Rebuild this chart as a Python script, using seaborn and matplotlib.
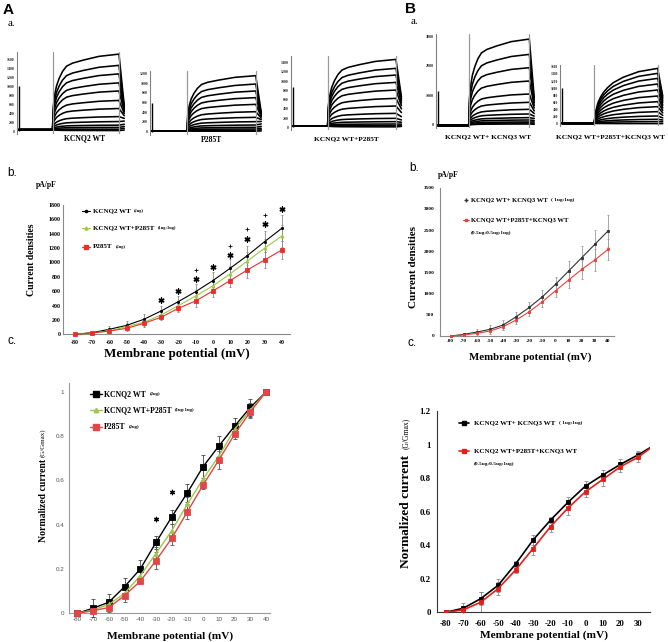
import numpy as np
import pandas as pd
import matplotlib
matplotlib.use("Agg")
import matplotlib.pyplot as plt
import seaborn as sns
from matplotlib.lines import Line2D

sns.set_theme(style="white")
SERIF = "Liberation Serif"
SANS = "Liberation Sans"
plt.rcParams['font.family'] = [SERIF, 'DejaVu Sans']
plt.rcParams['axes.unicode_minus'] = False

# ---------------- data ----------------
voltage = [-80, -70, -60, -50, -40, -30, -20, -10, 0, 10, 20, 30, 40]

# b (A): current densities pA/pF
b_wt = [0, 23, 70, 125, 209, 325, 455, 594, 747, 918, 1095, 1289, 1475]
b_wt_err = [0, 12, 40, 55, 70, 65, 85, 110, 120, 130, 135, 150, 180]
b_mix = [0, 19, 46, 107, 167, 269, 399, 533, 673, 840, 1020, 1197, 1368]
b_mix_err = [0, 10, 30, 45, 50, 55, 70, 90, 100, 110, 120, 130, 150]
b_mut = [0, 19, 46, 83, 153, 237, 362, 464, 603, 747, 895, 1034, 1173]
b_mut_err = [0, 10, 25, 35, 45, 40, 55, 80, 90, 95, 110, 115, 130]
b_star_x = [-30, -20, -10, 0, 10, 20, 30, 40]
b_star_y = [478, 603, 770, 932, 1104, 1327, 1531, 1739]
b_plus_x = [-10, 10, 20, 30]
b_plus_y = [895, 1229, 1461, 1660]

# b (B): current densities with KCNQ3
bb_wt = [0, 39, 94, 157, 260, 456, 677, 928, 1220, 1534, 1849, 2164, 2478]
bb_wt_err = [0, 25, 80, 100, 120, 120, 130, 160, 180, 240, 280, 330, 380]
bb_mut = [0, 24, 63, 118, 220, 378, 574, 810, 1070, 1322, 1574, 1794, 2046]
bb_mut_err = [0, 20, 60, 80, 90, 90, 100, 130, 150, 180, 220, 260, 250]

# c (A): normalized conductance
c_wt = [0, 0.023, 0.05, 0.12, 0.20, 0.32, 0.435, 0.545, 0.663, 0.756, 0.846, 0.93, 1.0]
c_wt_err = [0, 0.04, 0.035, 0.04, 0.04, 0.03, 0.03, 0.04, 0.05, 0.045, 0.035, 0.04, 0]
c_mix = [0, 0.015, 0.04, 0.09, 0.17, 0.27, 0.373, 0.494, 0.607, 0.711, 0.831, 0.919, 1.0]
c_mix_err = [0, 0.01, 0.02, 0.02, 0.02, 0.03, 0.03, 0.03, 0.04, 0.03, 0.03, 0.03, 0]
c_mut = [0, 0.012, 0.026, 0.08, 0.145, 0.238, 0.339, 0.459, 0.58, 0.693, 0.809, 0.91, 1.0]
c_mut_err = [0, 0.01, 0.02, 0.03, 0.01, 0.04, 0.03, 0.035, 0.02, 0.04, 0.02, 0.03, 0]
c_star_x = [-30, -20]
c_star_y = [0.426, 0.547]

# c (B): normalized conductance with KCNQ3
cb_wt = [0, 0.024, 0.081, 0.161, 0.288, 0.431, 0.55, 0.656, 0.753, 0.819, 0.882, 0.938, 1.0]
cb_wt_err = [0, 0.03, 0.04, 0.04, 0.015, 0.03, 0.02, 0.03, 0.03, 0.03, 0.03, 0.025, 0]
cb_mut = [0, 0.014, 0.06, 0.141, 0.252, 0.38, 0.511, 0.622, 0.719, 0.793, 0.868, 0.924, 1.0]
cb_mut_err = [0, 0.02, 0.06, 0.04, 0.02, 0.04, 0.03, 0.04, 0.03, 0.04, 0.03, 0.03, 0]

# current traces (a): steady-state level, tail level per sweep
protocol_t = [0.03, 0.54, 1.54, 1.62]          # start, step on, step off, tail end
shape_t = [0, 0.01, 0.03, 0.06, 0.10, 0.15, 0.21, 0.30, 0.46, 0.70, 1.0]
shape_fast = [0, 0.30, 0.45, 0.58, 0.68, 0.77, 0.84, 0.88, 0.92, 0.97, 1.0]
shape_slow = [0, 0.12, 0.25, 0.38, 0.48, 0.57, 0.65, 0.74, 0.84, 0.94, 1.0]

tr_wt = [10, 40, 80, 130, 210, 320, 500, 680, 890, 1070, 1270, 1460, 1710]
tr_wt_tail = [20, 60, 100, 150, 220, 280, 340, 390, 430, 460, 490, 520, 560]
tr_mut = [10, 27, 55, 89, 137, 206, 295, 411, 562, 700, 837, 980, 1152]
tr_mut_tail = [15, 40, 70, 110, 160, 210, 250, 280, 310, 330, 350, 370, 400]
tr_mix = [10, 36, 72, 123, 195, 303, 462, 628, 808, 974, 1133, 1278, 1472]
tr_mix_tail = [20, 40, 70, 110, 160, 230, 320, 400, 470, 530, 580, 620, 660]
tr_q3 = [10, 46, 80, 148, 228, 354, 513, 753, 1038, 1483, 1939, 2395, 2920]
tr_q3_tail = [0, 40, 80, 130, 200, 280, 370, 460, 560, 650, 740, 830, 920]
tr_q3m = [10, 65, 130, 223, 344, 484, 623, 781, 949, 1116, 1274, 1414, 1553]
tr_q3m_tail = [10, 60, 110, 170, 240, 310, 380, 450, 520, 590, 650, 720, 780]

# ---------------- figure ----------------
W, H = 668, 642
fig = plt.figure(figsize=(W / 100, H / 100), dpi=100)
renderer = fig.canvas.get_renderer()


def add_ax(l, t, r, b):
    return fig.add_axes([l / W, 1 - b / H, (r - l) / W, (b - t) / H])


def ftext(x, y, s, size, family=SERIF, weight='bold', ha='left', va='center',
          rot=0, color='black'):
    return fig.text(x / W, 1 - y / H, s, fontsize=size, family=family, fontweight=weight,
                    ha=ha, va=va, rotation=rot, color=color)


def ftext_pair(x, y, main, size, suffix, ssize, gap=3.5):
    t = ftext(x, y, main, size)
    bb = t.get_window_extent(renderer)
    ftext(bb.x1 + gap, y, suffix, ssize)


def fkey(x0, x1, y, color, marker, ms, lw=0.8):
    if x1 > x0:
        fig.add_artist(Line2D([x0 / W, x1 / W], [1 - y / H, 1 - y / H], color=color, lw=lw))
    fig.add_artist(Line2D([(x0 + x1) / 2 / W], [1 - y / H], marker=marker, ms=ms,
                          color=color, mec=color, lw=0))


def trace_panel(box, levels, tails, baseline, shape_f, trans_peak, ylim, yticks, tsize):
    ax = add_ax(*box)
    t0, ton, toff, tend = protocol_t
    for lev, tail in zip(levels, tails):
        t = [t0, ton] + [ton + s * (toff - ton) for s in shape_t] + [tend]
        y = [baseline, baseline] + [baseline + f * (lev - baseline) for f in shape_f] + [tail]
        sns.lineplot(x=t, y=y, ax=ax, color='black', lw=1.15, estimator=None, sort=False)
    ax.axvline(ton, color='#9a9a9a', lw=0.9)
    ax.axvline(toff, color='#9a9a9a', lw=0.9)
    ax.vlines(0.035, 0, trans_peak, color='black', lw=1.0)
    ax.set_xlim(0, 1.64)
    ax.set_ylim(*ylim)
    ax.set_yticks(yticks)
    ax.set_yticklabels([str(v) for v in yticks], fontsize=tsize, family=SERIF, fontweight='bold')
    ax.set_xticks([])
    ax.tick_params(axis='y', length=0, pad=1.5)
    for s in ['top', 'right', 'bottom']:
        ax.spines[s].set_visible(False)
    ax.spines['left'].set_color('#808080')
    ax.spines['left'].set_linewidth(0.8)
    ax.set_xlabel('')
    ax.set_ylabel('')
    ax.patch.set_alpha(0)
    return ax


trace_panel((16.7, 52.3, 125.6, 133.7), tr_wt, tr_wt_tail, 30, shape_fast, 1000,
            (-60, 1750), list(range(0, 1601, 200)), 2.8)
trace_panel((150, 70.9, 262.6, 134.6), tr_mut, tr_mut_tail, 15, shape_fast, 600,
            (-60, 1250), list(range(0, 1201, 200)), 2.8)
trace_panel((290.7, 55.8, 402.8, 130.1), tr_mix, tr_mix_tail, 30, shape_fast, 880,
            (-60, 1550), list(range(0, 1401, 200)), 2.8)
trace_panel((436, 33.8, 535.4, 127.8), tr_q3, tr_q3_tail, -40, shape_fast, 1150,
            (-120, 3100), [0, 1000, 2000, 3000], 3.0)
trace_panel((560, 64.9, 664, 126.1), tr_q3m, tr_q3m_tail, 15, shape_slow, 1000,
            (-60, 1650), list(range(0, 1601, 200)), 2.6)

ftext(85, 138.3, "KCNQ2 WT", 5.5, ha='center')
ftext(211.7, 140, "P285T", 5.5, ha='center')
ftext(346.7, 139, "KCNQ2 WT+P285T", 5.3, ha='center')
ftext(488, 137, "KCNQ2 WT+ KCNQ3 WT", 5.3, ha='center')
ftext(610, 136.7, "KCNQ2 WT+P285T+KCNQ3 WT", 5.3, ha='center')

GREEN = '#9cc84b'
RED = '#e8302a'


def style_axes(ax, spine_color, tsize, tfamily, tweight, tcolor, ypad, xpad):
    for s in ['top', 'right']:
        ax.spines[s].set_visible(False)
    for s in ['left', 'bottom']:
        ax.spines[s].set_color(spine_color)
        ax.spines[s].set_linewidth(0.8)
    ax.tick_params(axis='both', length=0, labelsize=tsize, colors=tcolor)
    ax.tick_params(axis='y', pad=ypad)
    ax.tick_params(axis='x', pad=xpad)
    for lab in ax.get_xticklabels() + ax.get_yticklabels():
        lab.set_family(tfamily)
        lab.set_fontweight(tweight)
    ax.set_xlabel('')
    ax.set_ylabel('')
    ax.patch.set_alpha(0)


def series(ax, y, err, color, marker, ms, lw, ecolor, cap):
    ax.errorbar(voltage, y, yerr=err, fmt='none', ecolor=ecolor, elinewidth=0.6,
                capsize=cap, capthick=0.6, clip_on=False, zorder=2)
    sns.lineplot(x=voltage, y=y, ax=ax, color=color, marker=marker, markersize=ms,
                 markeredgecolor=color, markeredgewidth=0.6, lw=lw, clip_on=False, zorder=3)


# ---- b (A) ----
ax = add_ax(63, 205, 290, 334.3)
series(ax, b_wt, b_wt_err, 'black', 'o', 1.6, 0.8, '#8a8a8a', 1.0)
series(ax, b_mix, b_mix_err, GREEN, '^', 2.2, 0.8, '#8a8a8a', 1.0)
series(ax, b_mut, b_mut_err, RED, 's', 2.2, 0.8, '#8a8a8a', 1.0)
sns.scatterplot(x=b_star_x, y=b_star_y, ax=ax, marker=(6, 2, 0), s=13, color='black',
                linewidth=1.0, edgecolor='black', clip_on=False, zorder=4)
sns.scatterplot(x=b_plus_x, y=b_plus_y, ax=ax, marker='+', s=12, color='black',
                linewidth=0.6, clip_on=False, zorder=4)
ax.set_xlim(-86.97, 44.8)
ax.set_ylim(0, 1800)
ax.set_xticks(voltage)
ax.set_yticks(list(range(0, 1801, 200)))
style_axes(ax, '#8a8a8a', 4.2, SERIF, 'bold', 'black', 1.5, 4)

ftext(46.7, 185, "pA/pF", 5.5, ha='center')
ftext(32, 260, "Current densities", 7.0, ha='center', rot=90)
ftext(176.7, 353.5, "Membrane potential (mV)", 9.4, ha='center')
fkey(82, 90, 211, 'black', 'o', 1.6)
ftext_pair(93, 211, "KCNQ2 WT", 5.0, "(2ug)", 3.2)
fkey(82, 90, 228, GREEN, '^', 2.2)
ftext_pair(93, 228, "KCNQ2 WT+P285T", 5.0, "(1ug:1ug)", 3.2)
fkey(82, 90, 247, RED, 's', 2.2)
ftext_pair(93, 247, "P285T", 5.0, "(2ug)", 3.2)

# ---- b (B) ----
ax = add_ax(440, 187.7, 614, 336)
series(ax, bb_wt, bb_wt_err, '#333333', 's', 1.6, 0.8, '#999999', 1.0)
series(ax, bb_mut, bb_mut_err, '#e8403a', 's', 1.8, 0.8, '#999999', 1.0)
ax.set_xlim(-88.2, 44.6)
ax.set_ylim(0, 3500)
ax.set_xticks(voltage)
ax.set_yticks(list(range(0, 3501, 500)))
style_axes(ax, '#8a8a8a', 3.8, SERIF, 'bold', 'black', 4, 2.5)

ftext(448, 175, "pA/pF", 5.5, ha='center')
ftext(414, 266.7, "Current densities", 8, ha='center', rot=90)
ftext(530.7, 357.5, "Membrane potential (mV)", 7.8, ha='center')
fkey(465.7, 465.7, 200, '#333333', '+', 2.5)
ftext_pair(470.7, 200, "KCNQ2 WT+ KCNQ3 WT", 4.8, "( 1ug:1ug)", 3.8, gap=4)
fkey(463, 468.5, 220, '#e8403a', 's', 1.6)
ftext(470.7, 220, "KCNQ2 WT+P285T+KCNQ3 WT", 4.8)
ftext(471, 232.7, "(0.5ug:0.5ug:1ug)", 3.8)

# ---- c (A) ----
ax = add_ax(69, 383.3, 270, 613.3)
series(ax, c_wt, c_wt_err, 'black', 's', 3.8, 1.0, '#444444', 1.3)
series(ax, c_mix, c_mix_err, GREEN, '^', 3.2, 1.0, '#555555', 1.3)
series(ax, c_mut, c_mut_err, '#e04848', 's', 3.8, 1.0, '#555555', 1.3)
sns.scatterplot(x=c_star_x, y=c_star_y, ax=ax, marker=(6, 2, 0), s=10, color='black',
                linewidth=0.9, edgecolor='black', clip_on=False, zorder=4)
ax.set_xlim(-85.3, 42.5)
ax.set_ylim(0, 1.039)
ax.set_xticks(voltage)
ax.set_yticks([0, 0.2, 0.4, 0.6, 0.8, 1.0])
ax.set_yticklabels(['0', '0.2', '0.4', '0.6', '0.8', '1'])
style_axes(ax, '#9a9a9a', 4.5, SANS, 'normal', '#555555', 3.6, 3)

ftext(43.3, 500.7, "Normalized current", 7.0, ha='center', rot=90)
ftext(43.3, 442.3, "(G/Gmax)", 5.0, weight='normal', ha='center', rot=90)
ftext(170, 635.7, "Membrane potential (mV)", 8.1, ha='center')
fkey(90, 102, 394, 'black', 's', 3.8, lw=1.0)
ftext_pair(104, 394, "KCNQ2 WT", 5.6, "(2ug)", 3.4)
fkey(90, 102, 410, GREEN, '^', 3.2, lw=1.0)
ftext_pair(104, 410, "KCNQ2 WT+P285T", 5.6, "(1ug:1ug)", 3.4)
fkey(90, 102, 426.7, '#e04848', 's', 3.8, lw=1.0)
ftext_pair(104, 426.7, "P285T", 5.6, "(2ug)", 3.4)

# ---- c (B) ----
ax = add_ax(437.3, 411, 650, 612.3)
series(ax, cb_wt, cb_wt_err, 'black', 's', 2.6, 1.2, '#8a8a8a', 1.3)
series(ax, cb_mut, cb_mut_err, '#e0201b', 's', 2.2, 1.2, '#8a8a8a', 1.3)
for ln in ax.get_lines():
    ln.set_clip_on(True)
ax.set_xlim(-84.8, 36.9)
ax.set_ylim(0, 1.2)
ax.set_xticks(voltage[:-1])
ax.set_yticks([0, 0.2, 0.4, 0.6, 0.8, 1.0, 1.2])
ax.set_yticklabels(['0', '0.2', '0.4', '0.6', '0.8', '1', '1.2'])
style_axes(ax, '#333333', 6.3, SERIF, 'bold', 'black', 4.8, 5.5)

ftext(405.7, 511.7, "Normalized current", 9.6, ha='center', rot=90)
ftext(405.7, 433.3, "(G/Gmax)", 5.5, weight='normal', ha='center', rot=90)
ftext(544, 635, "Membrane potential (mV)", 8.2, ha='center')
fkey(459, 469, 422.7, 'black', 's', 2.6, lw=1.2)
ftext_pair(474, 422.7, "KCNQ2 WT+ KCNQ3 WT", 5.0, "( 1ug:1ug)", 3.8, gap=4)
fkey(459, 469, 451, '#e0201b', 's', 2.2, lw=1.2)
ftext(474, 451, "KCNQ2 WT+P285T+KCNQ3 WT", 5.0)
ftext(474, 464.3, "(0.5ug:0.5ug:1ug)", 3.8)

# ---- panel letters ----
ftext(3, 10, "A", 11, family=SANS, va='center')
ftext(8, 23, "a.", 8, weight='normal')
ftext(405, 9, "B", 11, family=SANS, va='center')
ftext(411, 21, "a.", 8, weight='normal')
ftext(7, 173, "b.", 8.5, family=SANS, weight='normal')
ftext(7, 341, "c.", 8.5, family=SANS, weight='normal')
ftext(409, 168, "b.", 8.5, family=SANS, weight='normal')
ftext(408, 342.5, "c.", 8.5, family=SANS, weight='normal')

fig.savefig("out.png", dpi=100)
